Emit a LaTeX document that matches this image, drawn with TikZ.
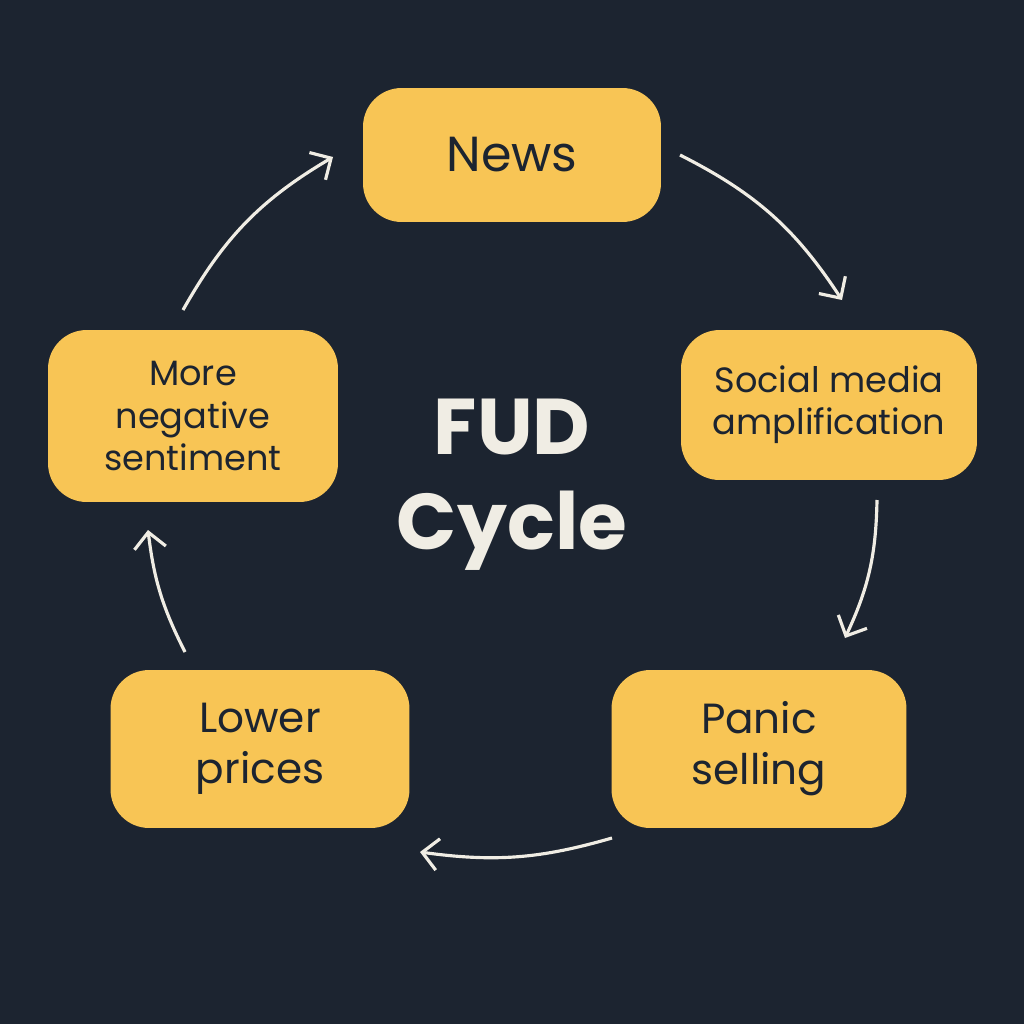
\documentclass[tikz,border=0pt]{standalone}
\usepackage{fontspec}
\setmainfont{Poppins}
\usetikzlibrary{arrows.meta, positioning}
\definecolor{bgdark}{HTML}{1C2430}
\definecolor{boxyellow}{HTML}{F8C555}
\definecolor{arrowcream}{HTML}{F0EDE4}
\tikzset{
    stage/.style={
        rectangle, rounded corners=22pt, fill=boxyellow,
        text=bgdark, align=center, font=\fontsize{20}{24}\selectfont
    },
    flow/.style={draw=arrowcream, line width=1.8pt,
        -{Straight Barb[length=9pt, width=18pt, line width=1.8pt]}}
}
\begin{document}
\begin{tikzpicture}[x=0.02cm, y=-0.02cm]

\fill[bgdark] (0,0) rectangle (1024,1024);
\useasboundingbox (0,0) rectangle (1024,1024);

% stages
\node[stage, minimum width=5.96cm, minimum height=2.68cm, font=\fontsize{28}{32}\selectfont] (news) at (512,155) {News};
\node[stage, minimum width=5.92cm, minimum height=3.0cm] (social) at (829,405) {Social media\\amplification};
\node[stage, minimum width=5.9cm, minimum height=3.16cm, font=\fontsize{24}{29}\selectfont] (panic) at (759,749) {Panic\\selling};
\node[stage, minimum width=5.98cm, minimum height=3.16cm, font=\fontsize{24}{29}\selectfont] (lower) at (260,749) {Lower\\prices};
\node[stage, minimum width=5.8cm, minimum height=3.44cm] (negative) at (193,416) {More\\negative\\sentiment};

\node[text=arrowcream, font=\fontsize{45}{54}\selectfont\bfseries, align=center] (title) at (512,485) {FUD\\Cycle};

% arrow ends
\coordinate (a1) at (680,155);
\coordinate (b1) at (842,300);
\coordinate (a2) at (877,500);
\coordinate (b2) at (845,638);
\coordinate (a3) at (612,838);
\coordinate (b3) at (420,852);
\coordinate (a4) at (185,652);
\coordinate (b4) at (148,530);
\coordinate (a5) at (183,310);
\coordinate (b5) at (333,157);

\draw[flow] (a1) to[bend left=15] (b1);
\draw[flow] (a2) to[bend left=12] (b2);
\draw[flow] (a3) to[bend left=12] (b3);
\draw[flow] (a4) to[bend left=10] (b4);
\draw[flow] (a5) to[bend left=15] (b5);

\end{tikzpicture}
\end{document}
